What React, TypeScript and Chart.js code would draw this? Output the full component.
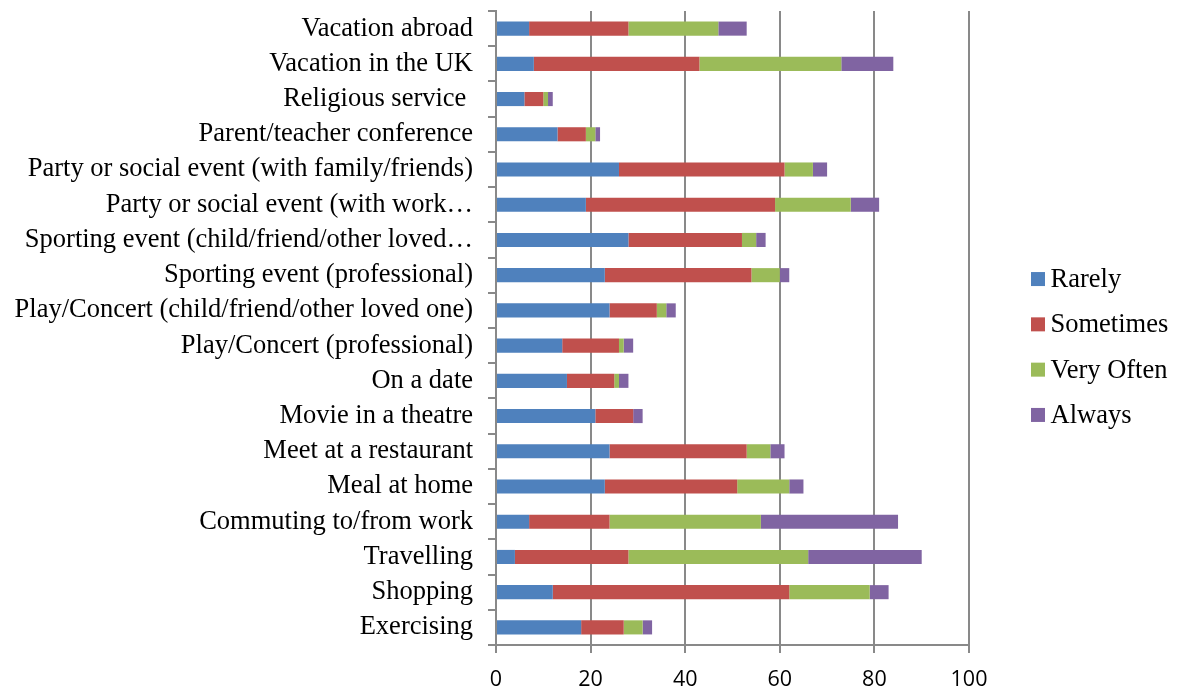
import { useEffect, useRef } from "react";
import { Chart, registerables } from "chart.js";

Chart.register(...registerables);

const categories = [
  "Vacation abroad",
  "Vacation in the UK",
  "Religious service ",
  "Parent/teacher conference",
  "Party or social event (with family/friends)",
  "Party or social event (with work…",
  "Sporting event (child/friend/other loved…",
  "Sporting event (professional)",
  "Play/Concert (child/friend/other loved one)",
  "Play/Concert (professional)",
  "On a date",
  "Movie in a theatre",
  "Meet at a restaurant",
  "Meal at home",
  "Commuting to/from work",
  "Travelling",
  "Shopping",
  "Exercising",
];

const seriesNames = ["Rarely", "Sometimes", "Very Often", "Always"];
const rarely = [7, 8, 6, 13, 26, 19, 28, 23, 24, 14, 15, 21, 24, 23, 7, 4, 12, 18];
const sometimes = [21, 35, 4, 6, 35, 40, 24, 31, 10, 12, 10, 8, 29, 28, 17, 24, 50, 9];
const veryOften = [19, 30, 1, 2, 6, 16, 3, 6, 2, 1, 1, 0, 5, 11, 32, 38, 17, 4];
const always = [6, 11, 1, 1, 3, 6, 2, 2, 2, 2, 2, 2, 3, 3, 29, 24, 4, 2];
const colors = ["#4F81BD", "#C0504D", "#9BBB59", "#8064A2"];
const xTickMin = 0;
const xTickMax = 100;
const xTickStep = 20;

const SERIF = "'Liberation Serif', 'Times New Roman', serif";
const SANS = "'Open Sans', 'Liberation Sans', Arial, sans-serif";
const GRID = "#898989";

const legendPlugin = {
  id: "sideLegend",
  afterDraw(chart: any) {
    const ctx = chart.ctx;
    const ds = chart.data.datasets;
    const box = 14;
    const spacing = 45.3;
    const x = chart.chartArea.right + 62;
    const startY = chart.height / 2 + 1.5 - ((ds.length - 1) * spacing) / 2;
    ctx.save();
    ctx.font = `26.5px ${SERIF}`;
    ctx.textBaseline = "middle";
    ctx.textAlign = "left";
    ds.forEach((d: any, i: number) => {
      const cy = startY + i * spacing;
      ctx.fillStyle = d.backgroundColor;
      ctx.fillRect(x, cy - box / 2, box, box);
      ctx.fillStyle = "#000";
      ctx.fillText(d.label, x + box + 5.5, cy + 1);
    });
    ctx.restore();
  },
};

export default function App() {
  const ref = useRef<HTMLCanvasElement | null>(null);

  useEffect(() => {
    if (!ref.current) return;
    const values = [rarely, sometimes, veryOften, always];
    const chart = new Chart(ref.current, {
      type: "bar",
      data: {
        labels: categories,
        datasets: seriesNames.map((name, i) => ({
          label: name,
          data: values[i],
          backgroundColor: colors[i],
          borderWidth: 0,
          barPercentage: 0.4,
          categoryPercentage: 1.0,
        })),
      },
      options: {
        indexAxis: "y",
        animation: false,
        responsive: true,
        maintainAspectRatio: false,
        layout: { padding: { top: 11, right: 209, bottom: 0, left: 0 } },
        plugins: {
          legend: { display: false },
          tooltip: { enabled: false },
        },
        scales: {
          x: {
            stacked: true,
            min: xTickMin,
            max: xTickMax,
            ticks: {
              stepSize: xTickStep,
              color: "#000",
              font: { family: SANS, size: 21.5 },
              padding: 14,
              maxRotation: 0,
            },
            grid: { color: GRID, lineWidth: 2, tickLength: 8, drawTicks: true },
            border: { display: true, color: GRID, width: 2 },
            afterFit: (scale: any) => {
              scale.height = 46;
            },
          },
          y: {
            stacked: true,
            ticks: {
              color: "#000",
              font: { family: SERIF, size: 26.5 },
              padding: 15,
              autoSkip: false,
            },
            grid: {
              drawOnChartArea: false,
              drawTicks: true,
              tickLength: 8,
              color: GRID,
              lineWidth: 2,
              offset: true,
            },
            border: { display: true, color: GRID, width: 2 },
            afterFit: (scale: any) => {
              scale.width = 496;
              scale.paddingTop = 0;
              scale.paddingBottom = 0;
            },
          },
        },
      },
      plugins: [legendPlugin],
    });
    return () => chart.destroy();
  }, []);

  return (
    <div style={{ position: "fixed", left: 0, top: 0, width: 1178, height: 691, background: "#fff" }}>
      <canvas ref={ref} />
    </div>
  );
}
